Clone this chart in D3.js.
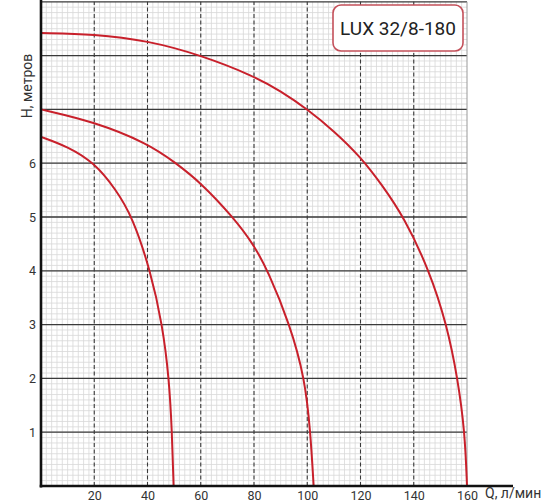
<!DOCTYPE html>
<html>
<head>
<meta charset="utf-8">
<script src="https://cdnjs.cloudflare.com/ajax/libs/d3/7.8.5/d3.min.js"></script>
<style>
  body { margin: 0; background: #fff; }
  text { font-family: Roboto, "DejaVu Sans", sans-serif; }
</style>
</head>
<body>
<div id="chart"></div>
<script>
// data
var title = "LUX 32/8-180";
var xTicks = [20, 40, 60, 80, 100, 120, 140, 160];
var yTicks = [1, 2, 3, 4, 5, 6];

var qTop = [0, 20, 40, 60, 80, 90, 100.2, 110, 120, 128, 136.3, 145.9, 152.4, 156.5, 159.2, 160];
var hTop = [8.42, 8.40, 8.28, 8.01, 7.62, 7.34, 7.0, 6.6, 6.12, 5.6, 5.0, 4.0, 3.0, 2.0, 1.0, 0];

var qMid = [0, 20, 40, 50.2, 60, 72.1, 80, 85.2, 93.5, 99.1, 101.2, 102.4];
var hMid = [7.0, 6.77, 6.37, 6.02, 5.64, 5.0, 4.48, 4.0, 3.0, 2.0, 1.0, 0];

var qLow = [0, 10, 20, 28, 34.4, 41.1, 45.6, 48.1, 49.2, 49.8];
var hLow = [6.49, 6.31, 6.01, 5.52, 5.0, 4.0, 3.0, 2.0, 1.0, 0];

// chart setup
var svgWidth = 560;
var svgHeight = 504;

var svg = d3.select("#chart")
    .append("svg")
    .attr("width", svgWidth)
    .attr("height", svgHeight);

var x = d3.scaleLinear().domain([0, 160]).range([41, 467]);
var y = d3.scaleLinear().domain([0, 9]).range([486, 1.8]);

// minor grid
var grid = svg.append("g");
grid.selectAll("line.vmin")
    .data(d3.range(2, 160, 2))
    .enter().append("line")
    .attr("x1", d => x(d)).attr("x2", d => x(d))
    .attr("y1", y(0)).attr("y2", y(9))
    .attr("stroke", "#d8d8d8").attr("stroke-width", 0.8);

grid.selectAll("line.hmin")
    .data(d3.range(1, 90).map(d => d / 10))
    .enter().append("line")
    .attr("x1", x(0)).attr("x2", x(160))
    .attr("y1", d => y(d)).attr("y2", d => y(d))
    .attr("stroke", "#d8d8d8").attr("stroke-width", 0.8);

// major grid
grid.selectAll("line.hmaj")
    .data(d3.range(1, 10))
    .enter().append("line")
    .attr("x1", x(0)).attr("x2", x(160))
    .attr("y1", d => y(d)).attr("y2", d => y(d))
    .attr("stroke", "#3a3a3a").attr("stroke-width", 1.3);

grid.selectAll("line.vmaj")
    .data(d3.range(20, 160, 20))
    .enter().append("line")
    .attr("x1", d => x(d)).attr("x2", d => x(d))
    .attr("y1", y(0)).attr("y2", y(9))
    .attr("stroke", "#3a3a3a").attr("stroke-width", 1.1)
    .attr("stroke-dasharray", "4,2.5");

grid.append("line")
    .attr("x1", x(160)).attr("x2", x(160))
    .attr("y1", y(0)).attr("y2", y(9))
    .attr("stroke", "#9a9a9a").attr("stroke-width", 1);

// curves (B-spline through the read points)
var line = d3.line()
    .x(d => x(d[0]))
    .y(d => y(d[1]))
    .curve(d3.curveBasis);

[[qTop, hTop], [qMid, hMid], [qLow, hLow]].forEach(function(c) {
    svg.append("path")
        .datum(d3.zip(c[0], c[1]))
        .attr("d", line)
        .attr("fill", "none")
        .attr("stroke", "#c8202b")
        .attr("stroke-width", 2);
});

// axes lines
svg.append("line")
    .attr("x1", x(0)).attr("x2", x(0))
    .attr("y1", 0).attr("y2", y(0) + 1.5)
    .attr("stroke", "#111").attr("stroke-width", 2.6);

svg.append("line")
    .attr("x1", x(0) - 1.3).attr("x2", 513)
    .attr("y1", y(0)).attr("y2", y(0))
    .attr("stroke", "#111").attr("stroke-width", 2.6);

// tick labels
var bottomAxis = d3.axisBottom(x).tickValues(xTicks).tickSize(0).tickPadding(5);
var gx = svg.append("g")
    .attr("transform", `translate(0, ${y(0)})`)
    .call(bottomAxis);
gx.select(".domain").remove();
gx.selectAll("text")
    .style("font-size", "12.5px")
    .attr("fill", "#333")
    .attr("font-family", "Roboto, sans-serif");

var leftAxis = d3.axisLeft(y).tickValues(yTicks).tickSize(0).tickPadding(5);
var gy = svg.append("g")
    .attr("transform", `translate(${x(0)}, 0)`)
    .call(leftAxis);
gy.select(".domain").remove();
gy.selectAll("text")
    .style("font-size", "12.5px")
    .attr("fill", "#333")
    .attr("font-family", "Roboto, sans-serif");

// axis titles
svg.append("text")
    .attr("x", 485)
    .attr("y", 498)
    .attr("font-size", "14px")
    .attr("fill", "#333")
    .text("Q, л/мин");

svg.append("text")
    .attr("transform", "translate(32, 86) rotate(-90)")
    .attr("text-anchor", "middle")
    .attr("font-size", "14px")
    .attr("fill", "#333")
    .text("H, метров");

// title box
svg.append("rect")
    .attr("x", 333).attr("y", 5)
    .attr("width", 130).attr("height", 46)
    .attr("rx", 8).attr("ry", 8)
    .attr("fill", "#fff")
    .attr("stroke", "#c4505a")
    .attr("stroke-width", 1.6);

svg.append("text")
    .attr("x", 398).attr("y", 35)
    .attr("text-anchor", "middle")
    .attr("font-size", "19px")
    .attr("fill", "#222")
    .text(title);
</script>
</body>
</html>
